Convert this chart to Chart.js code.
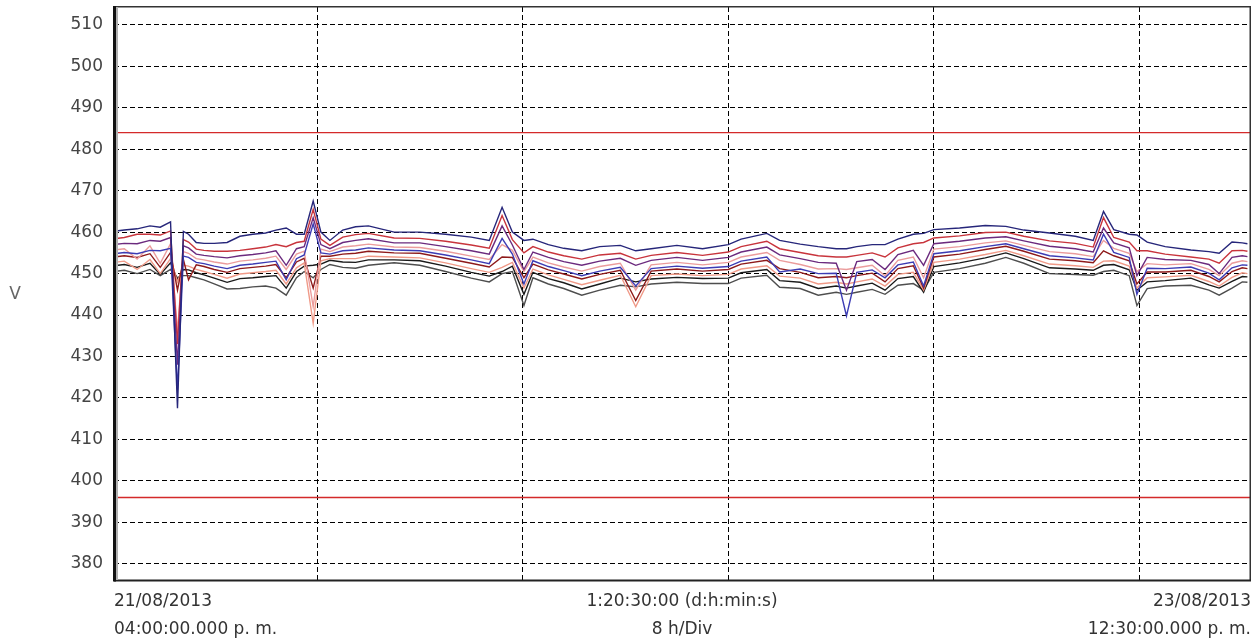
<!DOCTYPE html>
<html lang="es">
<head>
<meta charset="UTF-8">
<title>Tensión de línea</title>
<script src="https://cdn.jsdelivr.net/npm/chart.js"></script>
<style>
  body { margin: 0; background: #fff; }
  #wrap { position: relative; width: 1260px; height: 642px; }
</style>
</head>
<body>
<div id="wrap"><canvas id="voltChart" width="1260" height="642"></canvas></div>
<script>
// hours since 21/08/2013 16:00
const hours = [0.1,0.5,1.0,1.5,1.9,2.3,2.57,2.8,3.0,3.3,3.6,4.0,4.5,5.0,5.5,6.0,6.4,6.8,7.2,7.5,
  7.85,8.15,8.5,9.0,9.5,10,11,12,13,14,14.7,15.2,15.6,16.05,16.4,17,17.6,18.3,19,19.8,
  20.4,21,22,23,24,24.5,25.5,26,26.8,27.5,28.2,28.6,29,29.6,30.1,30.6,31.2,31.6,32,33,
  34,34.8,35.5,36.5,37.5,38.2,38.6,39,39.6,39.9,40.3,41,42,42.7,43.1,43.6,44,44.2];

const v12Max = [460.2,460.5,460.8,461.5,461.2,462.5,417.5,460.2,459.5,457.5,457.3,457.3,457.5,459.0,459.5,459.8,460.5,461.0,459.5,459.5,
  467.5,460.0,458.0,460.5,461.3,461.5,460.0,460.0,459.5,458.8,458.0,466.0,460.0,458.0,458.3,457.0,456.1,455.5,456.5,456.8,
  455.5,456.0,456.8,456.0,457.0,458.3,459.7,458.0,457.1,456.5,456.0,456.0,456.5,457.0,457.0,458.3,459.5,459.7,460.6,461.0,
  461.6,461.4,460.5,459.8,459.0,458.0,465.0,460.6,459.5,459.3,457.6,456.5,455.7,455.3,454.9,457.6,457.4,457.2];
const v23Max = [458.4,458.7,459.5,459.5,459.3,460.3,433.0,458.2,457.6,455.9,455.6,455.4,455.4,455.6,456.0,456.4,457.0,456.5,457.5,457.8,
  465.5,458.3,456.8,458.8,459.4,459.7,458.6,458.5,457.8,456.9,456.1,464.0,458.2,455.0,456.5,455.2,454.3,453.5,454.5,454.9,
  453.5,454.4,455.1,454.4,455.2,456.5,457.8,456.0,455.1,454.3,454.0,454.0,454.4,455.0,454.0,456.2,457.2,457.5,458.6,459.1,
  459.9,460.0,459.0,457.9,457.3,456.4,463.5,458.7,457.6,455.5,455.5,454.7,454.0,453.5,452.5,455.5,455.6,455.4];
const v31Max = [457.0,457.3,457.2,458.0,457.8,458.7,428.0,456.7,456.2,454.7,454.4,454.1,453.8,454.3,454.6,455.0,455.5,452.0,456.0,456.5,
  463.5,457.0,456.0,457.5,458.0,458.4,457.4,457.4,456.5,455.5,454.7,461.5,456.9,451.0,455.2,453.9,452.9,452.0,453.0,453.7,
  452.0,453.2,453.9,453.2,453.9,455.2,456.4,454.5,453.6,452.7,452.5,446.0,452.9,453.4,451.0,454.6,455.6,452.0,457.2,457.8,
  458.6,458.9,457.9,456.6,456.0,455.2,461.0,457.4,456.2,449.5,453.9,453.4,453.2,452.2,450.0,453.9,454.3,454.1];
const v12Avg = [455.7,456.0,453.5,456.7,452.5,457.2,436.0,455.3,454.9,453.6,453.3,452.8,452.3,453.0,453.3,453.7,454.2,451.0,454.7,455.4,
  442.0,455.9,455.3,456.4,456.7,457.1,456.4,456.3,455.4,454.2,453.4,457.0,455.6,450.5,454.0,452.6,451.6,450.6,451.7,452.5,
  446.0,452.1,452.7,452.1,452.7,454.0,455.1,453.2,452.2,451.1,451.2,451.0,451.4,452.0,449.5,453.2,454.0,449.0,455.9,456.5,
  457.4,457.9,456.8,455.3,454.8,454.1,458.0,456.1,454.9,450.5,452.4,452.1,452.4,451.0,449.5,452.5,453.1,452.9];
const v23Avg = [454.8,455.1,454.8,455.6,455.5,456.1,422.0,454.2,453.9,452.7,452.4,451.8,451.2,452.0,452.3,452.7,453.0,448.5,453.6,454.5,
  462.0,455.0,454.7,455.5,455.7,456.2,455.7,455.5,454.5,453.3,452.4,458.5,454.7,447.5,453.1,451.7,450.7,449.5,450.6,451.5,
  447.0,451.2,451.8,451.3,451.7,453.0,454.0,450.4,451.1,450.0,450.1,439.8,450.3,450.9,449.0,452.1,452.8,447.0,454.8,455.5,
  456.5,457.2,456.0,454.3,453.8,453.3,459.5,455.1,453.9,445.0,451.3,451.2,451.6,450.1,448.5,451.4,452.1,452.0];
const v31Avg = [454.0,454.3,453.9,454.8,451.5,455.1,446.0,453.4,448.5,452.1,451.7,451.0,450.3,451.2,451.5,451.8,452.2,449.0,452.8,453.7,
  446.5,454.2,454.2,454.7,454.9,455.4,455.0,454.9,453.7,452.5,451.6,454.0,453.9,449.0,452.3,450.9,449.9,448.7,449.8,450.8,
  443.5,450.6,451.1,450.6,451.0,452.3,453.2,451.2,450.3,449.0,449.3,449.0,449.5,450.1,448.0,451.2,451.9,446.5,454.0,454.7,
  455.8,456.6,455.4,453.5,453.1,452.6,455.5,454.3,453.1,447.5,450.4,450.4,450.8,449.3,448.0,450.5,451.4,451.2];
const v12Min = [452.7,453.0,451.0,453.4,450.0,453.6,448.0,452.0,451.8,451.0,450.5,449.8,448.9,449.9,450.2,450.5,450.8,447.5,451.4,452.6,
  438.0,453.1,453.6,453.6,453.6,454.2,454.0,453.8,452.6,451.2,450.3,451.5,452.7,446.5,451.1,449.7,448.6,447.3,448.4,449.6,
  442.0,449.5,449.9,449.5,449.8,451.1,451.9,449.4,448.9,447.5,447.9,447.5,448.0,448.7,447.0,449.8,450.3,446.0,452.7,453.5,
  454.6,455.6,454.3,452.3,451.9,451.5,453.0,453.1,451.8,446.5,449.0,449.2,449.6,448.1,447.0,449.1,450.2,450.0];
const v23Min = [451.9,452.2,451.5,452.5,449.8,452.6,448.5,451.0,450.9,450.2,449.7,448.9,447.9,448.8,449.0,449.3,449.5,446.5,450.5,451.8,
  452.0,452.3,453.2,452.8,452.7,453.3,453.3,453.1,451.8,450.3,449.4,450.5,451.8,445.0,450.3,448.8,447.8,446.3,447.5,448.9,
  448.0,448.7,449.1,448.8,448.9,450.2,451.0,448.3,447.9,446.4,447.0,446.5,447.0,447.7,446.0,448.8,449.3,445.5,451.7,452.6,
  453.8,455.0,453.6,451.4,451.1,450.8,452.0,452.2,450.9,446.0,448.0,448.3,448.9,447.3,446.5,448.1,449.3,449.2];
const v31Min = [450.5,450.8,450.0,451.0,449.5,451.0,449.0,449.5,449.5,449.0,448.5,447.5,446.3,446.4,446.8,447.0,446.5,444.8,449.0,450.5,
  449.0,451.0,452.2,451.5,451.3,452.0,452.6,452.0,450.5,448.9,448.0,450.0,450.5,442.3,449.0,447.5,446.4,444.8,446.0,447.2,
  446.8,447.5,447.9,447.6,447.6,448.9,449.6,446.7,446.4,444.8,445.5,445.0,445.5,446.2,445.0,447.2,447.6,446.0,450.3,451.2,
  452.5,453.9,452.5,450.0,449.8,449.6,450.5,450.8,449.5,442.3,446.4,447.0,447.2,446.0,444.8,446.5,448.0,447.9];

const yTicks = [380,390,400,410,420,430,440,450,460,470,480,490,500,510];
const xDivs = [8,16,24,32,40];
const upperLimit = 484;
const lowerLimit = 396;
const startLabel = ['21/08/2013', '04:00:00.000 p. m.'];
const spanLabel = ['1:20:30:00 (d:h:min:s)', '8 h/Div'];
const endLabel = ['23/08/2013', '12:30:00.000 p. m.'];
const yUnit = 'V';

const FONT = '"DejaVu Sans", Arial, sans-serif';

function series(vals, color) {
  return {
    data: hours.map((h, i) => ({ x: h, y: vals[i] })),
    borderColor: color,
    borderWidth: 1.4,
    pointRadius: 0,
    tension: 0
  };
}

function limit(v) {
  return {
    data: [{ x: hours[0] - 1, y: v }, { x: hours[hours.length - 1] + 1, y: v }],
    borderColor: '#d42a2a',
    borderWidth: 1.3,
    pointRadius: 0
  };
}

// frame, unit and time captions
const framePlugin = {
  id: 'frame',
  afterDraw(chart) {
    const { ctx, chartArea: a } = chart;
    ctx.save();
    ctx.fillStyle = '#333';
    ctx.fillRect(a.left, a.top - 1, a.right - a.left + 1, 1.5);
    ctx.fillRect(a.right - 0.5, a.top - 1, 1.5, a.bottom - a.top + 2);
    ctx.fillStyle = '#222';
    ctx.fillRect(a.left, a.bottom - 0.5, a.right - a.left + 1, 2);
    ctx.fillStyle = '#111';
    ctx.fillRect(a.left - 1, a.top - 1, 3, a.bottom - a.top + 2.5);
    ctx.fillStyle = '#b0b0b0';
    ctx.fillRect(a.left + 2, a.top, 2, a.bottom - a.top);

    ctx.font = '17px ' + FONT;
    ctx.fillStyle = '#333';
    ctx.textBaseline = 'middle';
    const rows = [602, 630];
    ctx.textAlign = 'left';
    startLabel.forEach((s, i) => ctx.fillText(s, a.left, rows[i]));
    ctx.textAlign = 'center';
    spanLabel.forEach((s, i) => ctx.fillText(s, (a.left + a.right) / 2, rows[i]));
    ctx.textAlign = 'right';
    endLabel.forEach((s, i) => ctx.fillText(s, a.right + 1, rows[i]));

    ctx.fillStyle = '#666';
    ctx.textAlign = 'center';
    ctx.fillText(yUnit, 15, 295);
    ctx.restore();
  }
};

const gridStyle = { color: '#000', lineWidth: 1, drawTicks: false };
const dashBorder = { display: false, dash: [5, 3] };

new Chart(document.getElementById('voltChart'), {
  type: 'line',
  data: {
    datasets: [
      series(v12Max, '#26267a'),
      series(v23Avg, '#3c3cb4'),
      series(v31Max, '#6b2a7e'),
      series(v23Max, '#c8343c'),
      series(v12Avg, '#eb9c9c'),
      series(v31Avg, '#8e1a1a'),
      series(v12Min, '#f09a88'),
      series(v23Min, '#1a1a1a'),
      series(v31Min, '#4e4e4e'),
      limit(upperLimit),
      limit(lowerLimit)
    ]
  },
  options: {
    responsive: false,
    animation: false,
    devicePixelRatio: 1,
    layout: { padding: { left: 0, top: 7, right: 10, bottom: 62 } },
    plugins: { legend: { display: false }, tooltip: { enabled: false } },
    scales: {
      x: {
        type: 'linear',
        min: 0.1,
        max: 44.3,
        grid: gridStyle,
        border: dashBorder,
        ticks: { display: false },
        afterBuildTicks: s => { s.ticks = xDivs.map(v => ({ value: v })); },
        afterFit: s => { s.height = 0; s.paddingLeft = 0; s.paddingRight = 0; }
      },
      y: {
        min: 376.1,
        max: 514.3,
        grid: gridStyle,
        border: dashBorder,
        ticks: {
          padding: 11,
          color: '#444',
          font: { family: FONT, size: 17 }
        },
        afterBuildTicks: s => { s.ticks = yTicks.map(v => ({ value: v })); },
        afterFit: s => { s.width = 114; s.paddingTop = 0; s.paddingBottom = 0; }
      }
    }
  },
  plugins: [framePlugin]
});
</script>
</body>
</html>
